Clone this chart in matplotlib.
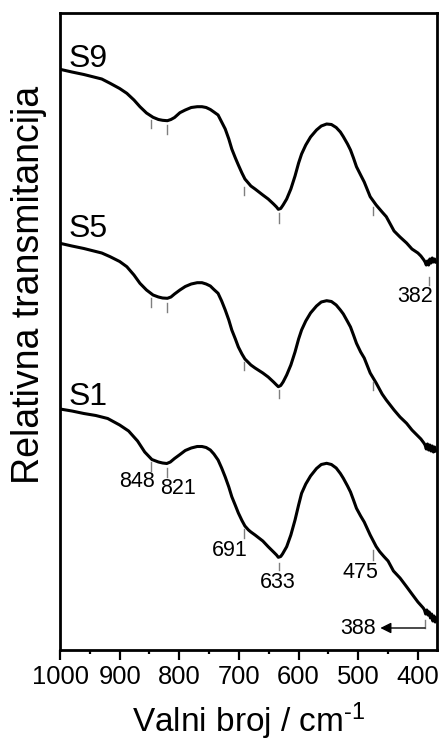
import numpy as np
import matplotlib
matplotlib.use('Agg')
from matplotlib import pyplot as plt
from matplotlib.ticker import MultipleLocator

plt.rcParams['font.family'] = ['Liberation Sans', 'DejaVu Sans']
plt.rcParams['mathtext.fontset'] = 'custom'
plt.rcParams['mathtext.rm'] = 'Liberation Sans'
plt.rcParams['mathtext.it'] = 'Liberation Sans'

# valni broj (cm-1) i relativna transmitancija (proizvoljne jedinice, s pomakom)
wn_s1 = [1000, 980, 960, 940, 920, 900, 885, 870, 858, 846, 835, 828, 821, 815,
         808, 800, 790, 780, 770, 762, 755, 748, 742, 735, 729, 723, 717, 712,
         706, 701, 695, 690, 684, 680, 673, 660, 651, 642, 637, 634, 630, 627,
         620, 613, 606, 600, 595, 588, 580, 570, 562, 553, 545, 537, 530, 525,
         518, 513, 508, 503, 496, 490, 480, 470, 464, 457, 450, 441, 430, 419,
         410, 400, 397, 394, 391, 389, 387, 385, 383, 381, 379, 377, 375, 373,
         371, 369]
t_s1 = [241, 239, 236.5, 234.5, 231.5, 225, 219, 209, 198, 190.5, 188, 187,
        186.5, 188, 191.5, 195, 199.5, 202, 203.5, 203.5, 202.5, 200, 196, 190,
        182, 173, 163, 153.3, 144.5, 137, 129.5, 124, 120, 118, 115, 109, 103.3,
        98, 95, 92.7, 93.5, 96, 103.3, 115, 130, 145, 156.7, 166, 174, 181.5,
        185.5, 186.7, 185.5, 182, 176.5, 171.7, 164, 158, 150, 141.7, 134, 128,
        115, 103.5, 98.3, 93.5, 89, 79, 72, 63.3, 56, 48, 46, 44, 42, 40, 36,
        40, 35, 38, 32, 36, 29, 34, 28, 32]

wn_s5 = [1000, 980, 960, 950, 930, 916, 900, 888, 876, 866, 855, 844, 835, 828,
         820, 814, 808, 799, 790, 780, 770, 762, 755, 748, 742, 735, 729, 723,
         717, 712, 706, 701, 695, 690, 680, 673, 660, 651, 642, 637, 634, 630,
         626, 620, 613, 606, 600, 595, 588, 580, 570, 562, 553, 545, 537, 530,
         525, 518, 513, 508, 503, 496, 490, 480, 470, 460, 453, 440, 430, 419,
         410, 400, 395, 390, 388, 386, 384, 382, 380, 378, 376, 374, 372, 370]
t_s5 = [406.7, 404, 401.5, 400, 397, 393.3, 388.5, 383.3, 375, 366.7, 360, 355,
        353, 352, 351.7, 353, 356, 360, 363.5, 366, 367.3, 367.3, 366, 364,
        360.5, 356.7, 349, 340, 330, 320, 311, 303, 296, 291, 285, 282, 277,
        273, 268, 265, 263.3, 264.5, 268, 275, 285, 298, 311, 320, 329, 337,
        344, 348, 349.3, 348.5, 345, 340, 336, 328.5, 323, 315, 306.7, 298,
        292, 277, 267, 256, 250, 240, 233, 226.7, 220, 214, 211, 207, 205, 201,
        206, 200, 205, 199, 204, 198, 203, 199]

wn_s9 = [1000, 980, 960, 950, 930, 916, 900, 888, 876, 866, 855, 844, 835, 828,
         820, 814, 808, 799, 790, 780, 770, 762, 755, 748, 742, 735, 729, 723,
         717, 712, 706, 701, 695, 690, 680, 673, 660, 651, 642, 637, 634, 630,
         626, 620, 613, 606, 600, 595, 588, 580, 570, 562, 553, 545, 537, 530,
         525, 518, 513, 508, 503, 496, 490, 480, 470, 460, 453, 440, 430, 419,
         410, 400, 395, 390, 388, 386, 384, 382, 380, 378, 376, 374, 372, 370]
t_s9 = [580.7, 578, 575.5, 574, 571, 566.7, 561.5, 556.7, 550, 543.3, 537,
        532.7, 530.5, 529.7, 529.3, 530.5, 532.5, 537.3, 540, 542.5, 543.3,
        543.3, 542.5, 540.5, 538, 535, 528, 521, 511, 501, 492, 485, 477, 471,
        464, 461, 455, 451, 446, 443, 440.7, 441.5, 445, 451, 461, 474, 487,
        496, 505, 513, 520, 524, 526, 525.5, 522.5, 518, 513.3, 506, 500, 492,
        483.3, 475, 468, 453.3, 445, 438, 433.3, 419, 413, 407, 401, 397, 394,
        390, 388, 385, 389, 385, 391, 387, 392, 388, 391, 388]

uzorci = ['S1', 'S5', 'S9']

# oznake traka: polozaj i raspon crtice
trake_s9 = [(848, 521.7, 530), (821, 516, 525), (691, 455, 463.3),
            (633, 427, 437), (475, 435, 443.3), (382, 365, 373.3)]
trake_s5 = [(848, 343, 352), (821, 338, 347), (691, 280, 288),
            (633, 252, 260), (475, 260, 268)]
trake_s1 = [(848, 179, 188), (821, 173, 182), (691, 112, 121),
            (633, 80, 87), (475, 90, 100), (388, 22, 30)]

fig = plt.figure(figsize=(4.41, 7.45), dpi=100)
ax = fig.add_axes([60/441, 95/745, 377/441, 637/745])

for wn, t in [(wn_s1, t_s1), (wn_s5, t_s5), (wn_s9, t_s9)]:
    ax.plot(wn, t, color='black', lw=2.2, solid_joinstyle='round')

for trake in [trake_s9, trake_s5, trake_s1]:
    for x, y0, y1 in trake:
        ax.plot([x, x], [y0, y1], color='#7f7f7f', lw=1)

# nazivi uzoraka
ax.text(986, 583, 'S9', fontsize=23, ha='left', va='baseline')
ax.text(986, 413, 'S5', fontsize=23, ha='left', va='baseline')
ax.text(986, 245, 'S1', fontsize=23, ha='left', va='baseline')

# brojevi traka
fs = 15.5
ax.text(871.5, 168, '848', fontsize=fs, ha='center', va='center')
ax.text(801.7, 161, '821', fontsize=fs, ha='center', va='center')
ax.text(715, 100, '691', fontsize=fs, ha='center', va='center')
ax.text(634.7, 67, '633', fontsize=fs, ha='center', va='center')
ax.text(497, 78, '475', fontsize=fs, ha='center', va='center')
ax.text(405, 353, '382', fontsize=fs, ha='center', va='center')
ax.text(500, 22, '388', fontsize=fs, ha='center', va='center')
ax.annotate('', xy=(463, 22), xytext=(388, 22),
            arrowprops=dict(arrowstyle='-|>', color='black', lw=1,
                            mutation_scale=16, shrinkA=0, shrinkB=0))

ax.set_xlim(1000, 368)
ax.set_ylim(0, 637)
ax.xaxis.set_major_locator(MultipleLocator(100))
ax.xaxis.set_minor_locator(MultipleLocator(50))
ax.set_yticks([])
ax.tick_params(axis='x', which='major', direction='out', length=7, width=1.6,
               labelsize=18.4, pad=4)
ax.tick_params(axis='x', which='minor', direction='out', length=3, width=1.6)
for s in ax.spines.values():
    s.set_linewidth(2)

ax.set_xlabel(r'Valni broj / cm$^{\text{-}1}$', fontsize=24, labelpad=8)
ax.set_ylabel('Relativna transmitancija', fontsize=27)
ax.yaxis.set_label_coords(-0.035, 0.573)

fig.savefig('out.png', dpi=100)
